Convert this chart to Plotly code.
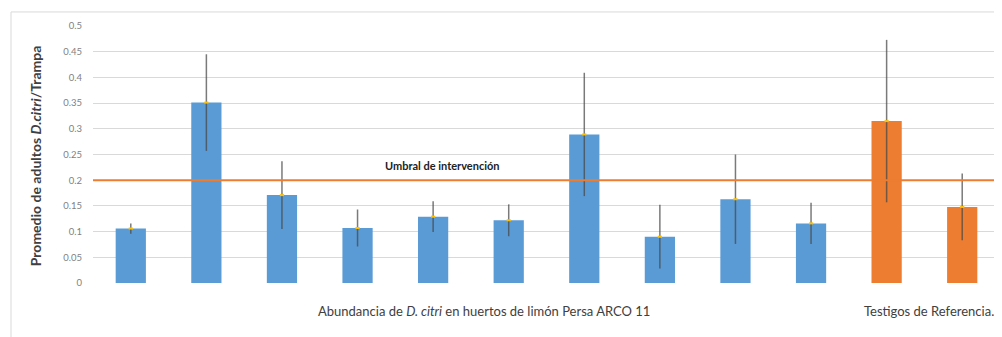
import plotly.graph_objects as go

# ---- data ----
categories = ["H1", "H2", "H3", "H4", "H5", "H6", "H7", "H8", "H9", "H10", "T1", "T2"]
group = ["huerto"] * 10 + ["testigo"] * 2
means = [0.106, 0.351, 0.171, 0.107, 0.129, 0.122, 0.289, 0.090, 0.163, 0.116, 0.315, 0.148]
err = [0.010, 0.094, 0.066, 0.036, 0.030, 0.031, 0.120, 0.062, 0.087, 0.040, 0.158, 0.065]
threshold = 0.2
y_ticks = [0, 0.05, 0.1, 0.15, 0.2, 0.25, 0.3, 0.35, 0.4, 0.45, 0.5]
y_tick_labels = ["0", "0.05", "0.1", "0.15", "0.2", "0.25", "0.3", "0.35", "0.4", "0.45", "0.5"]
y_title = "Promedio de adultos <i>D.citri</i>/Trampa"
group_labels = ["Abundancia de <i>D. citri</i> en huertos de limón Persa ARCO 11", "Testigos de Referencia."]
threshold_label = "Umbral de intervención"

BLUE = "#5B9BD5"
ORANGE = "#ED7D31"
FONT = "Lato"

fig = go.Figure()
colors = [BLUE if g == "huerto" else ORANGE for g in group]

fig.add_trace(go.Bar(
    x=categories, y=means, marker=dict(color=colors, line=dict(width=0)),
    error_y=dict(type="data", array=err, visible=True, color="rgba(70,70,70,0.72)",
                 thickness=1.5, width=0),
    showlegend=False, hoverinfo="skip",
))
fig.add_trace(go.Scatter(
    x=categories, y=means, mode="markers",
    marker=dict(color="#FFC000", size=3, symbol="line-ew", line=dict(color="#FFC000", width=2)),
    showlegend=False, hoverinfo="skip",
))

# threshold line
fig.add_shape(type="line", xref="paper", yref="y", x0=0, x1=0.995, y0=threshold, y1=threshold,
              line=dict(color=ORANGE, width=2), layer="above")
fig.add_annotation(x=4.13, y=threshold, xref="x", yref="y", yshift=15, text="<b>" + threshold_label + "</b>",
                   showarrow=False, font=dict(family=FONT, size=11, color="#222222"))

# y title
fig.add_annotation(x=-0.064, y=0.497, xref="paper", yref="paper", text="<b>" + y_title + "</b>",
                   textangle=-90, showarrow=False, xanchor="center", yanchor="middle",
                   font=dict(family=FONT, size=14, color="#404040"))

# group labels
fig.add_annotation(x=4.67, y=-0.11, xref="x", yref="paper", text=group_labels[0], showarrow=False,
                   font=dict(family=FONT, size=13, color="#404040"), yanchor="middle")
fig.add_annotation(x=9.68, y=-0.11, xref="x", yref="paper", text=group_labels[1], showarrow=False,
                   font=dict(family=FONT, size=13, color="#404040"), xanchor="left", yanchor="middle")

# chart border
fig.add_shape(type="rect", xref="paper", yref="paper", x0=-0.0904, x1=1.2, y0=-0.3, y1=1.0546,
              line=dict(color="#d9d9d9", width=1), fillcolor="rgba(0,0,0,0)", layer="below")

fig.update_layout(
    width=1002, height=337,
    margin=dict(l=85, r=10, t=18, b=62, pad=0),
    paper_bgcolor="white", plot_bgcolor="white",
    bargap=0.6,
    font=dict(family=FONT),
    xaxis=dict(range=[-0.5, 11.5], showticklabels=False, showgrid=False, zeroline=False,
               showline=False, ticks=""),
    yaxis=dict(range=[0, 0.5], tickvals=y_ticks, ticktext=y_tick_labels,
               showgrid=True, gridcolor="#d9d9d9", gridwidth=1, zeroline=False,
               tickfont=dict(family=FONT, size=9.5, color="#7f7f7f"), ticks="", ticklabelstandoff=10),
)

fig.write_html("out.html")
